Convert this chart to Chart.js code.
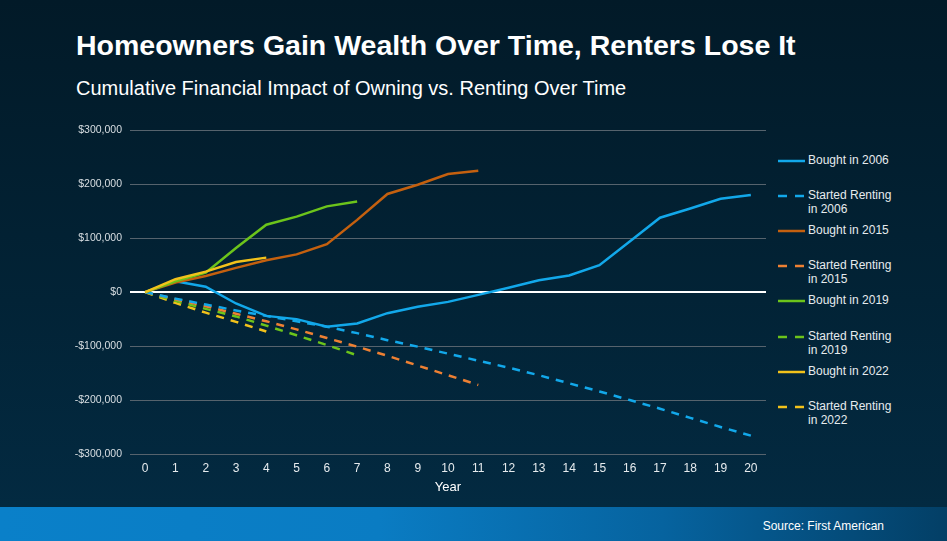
<!DOCTYPE html>
<html>
<head>
<meta charset="utf-8">
<script src="https://cdn.jsdelivr.net/npm/chart.js@4.4.1/dist/chart.umd.min.js"></script>
<style>
  html, body { margin:0; padding:0; }
  body {
    width:947px; height:541px; overflow:hidden; position:relative;
    background: linear-gradient(to bottom, #021a28 0px, #022336 300px, #032a41 507px);
    font-family: "Liberation Sans", Arial, sans-serif;
  }
  #title { position:absolute; left:76px; top:31px; color:#fff; font-weight:bold; font-size:28.5px; white-space:nowrap; line-height:1; }
  #subtitle { position:absolute; left:76px; top:78px; color:#fff; font-size:20px; white-space:nowrap; line-height:1; }
  #footer { position:absolute; left:0; top:507px; width:947px; height:34px;
    background: linear-gradient(to right, #0a80c9 0%, #0a7cc3 40%, #06639f 70%, #033f66 100%); }
  #source { position:absolute; right:63px; top:520px; color:#fff; font-size:12px; line-height:1; white-space:nowrap; }
  #wrap { position:absolute; left:0; top:116px; width:770px; height:379px; }
  #legend { position:absolute; left:778px; top:153px; }
  .item { position:absolute; left:0; width:170px; height:34px; }
  .item svg { position:absolute; left:0; top:1px; }
  .item span { position:absolute; left:30px; top:0; color:#e6ebee; font-size:12px; line-height:14px; white-space:nowrap; }
</style>
</head>
<body>
<div id="title">Homeowners Gain Wealth Over Time, Renters Lose It</div>
<div id="subtitle">Cumulative Financial Impact of Owning vs. Renting Over Time</div>
<div id="wrap"><canvas id="c"></canvas></div>
<div id="legend"></div>
<div id="footer"></div>
<div id="source">Source: First American</div>
<script>
const years = ['0','1','2','3','4','5','6','7','8','9','10','11','12','13','14','15','16','17','18','19','20'];
const yTicks = [-300000,-200000,-100000,0,100000,200000,300000];

const bought2006 = [0,20000,10000,-21000,-44000,-50000,-64000,-58000,-39000,-27000,-18000,-5000,8000,22000,31000,50000,94000,138000,155000,173000,180000];
const renting2006 = [0,-12000,-23000,-34000,-44000,-54000,-64000,-76000,-89000,-101000,-114000,-127000,-140000,-154000,-169000,-184000,-200000,-216000,-233000,-250000,-266000];
const bought2015 = [0,18000,30000,45000,59000,70000,89000,134000,182000,199000,219000,225000];
const renting2015 = [0,-13000,-26000,-40000,-54000,-69000,-85000,-101000,-118000,-136000,-154000,-172000];
const bought2019 = [0,20000,36000,82000,125000,140000,159000,168000];
const renting2019 = [0,-16000,-31000,-45000,-62000,-80000,-98000,-117000];
const bought2022 = [0,24000,38000,56000,64000];
const renting2022 = [0,-20000,-38000,-55000,-73000];

const seriesNames = ['Bought in 2006','Started Renting in 2006','Bought in 2015','Started Renting in 2015','Bought in 2019','Started Renting in 2019','Bought in 2022','Started Renting in 2022'];

const BLUE = '#12a8ea', ORANGE = '#c4600f', ORANGE_D = '#ee8033', GREEN = '#6cc41b', YELLOW = '#f2c21b';
const DASH = [8,7];

function ds(label, data, color, dashed, order){
  return {label, data, borderColor:color, backgroundColor:color, borderWidth:2.5,
    borderDash: dashed ? DASH : [], pointRadius:0, pointHoverRadius:0, tension:0, fill:false, order};
}

const datasets = [
  ds(seriesNames[0], bought2006, BLUE, false, 3),
  ds(seriesNames[1], renting2006, BLUE, true, 4),
  ds(seriesNames[2], bought2015, ORANGE, false, 2),
  ds(seriesNames[3], renting2015, ORANGE_D, true, 5),
  ds(seriesNames[4], bought2019, GREEN, false, 1),
  ds(seriesNames[5], renting2019, GREEN, true, 6),
  ds(seriesNames[6], bought2022, YELLOW, false, 0),
  ds(seriesNames[7], renting2022, YELLOW, true, 7),
];

function money(v){
  const s = Math.abs(v).toLocaleString('en-US');
  return (v < 0 ? '-$' : '$') + s;
}

const chart = new Chart(document.getElementById('c'), {
  type:'line',
  data:{ labels: years, datasets },
  options:{
    responsive:true, maintainAspectRatio:false, animation:false,
    layout:{ padding:{ top:2, right:4, left:0, bottom:0 } },
    plugins:{ legend:{ display:false }, tooltip:{ enabled:false } },
    scales:{
      x:{
        offset:true,
        grid:{ display:false, drawTicks:false },
        border:{ display:false },
        ticks:{ color:'#e6ebee', font:{ family:'"Liberation Sans", Arial, sans-serif', size:12 }, padding:7, maxRotation:0, autoSkip:false },
        title:{ display:true, text:'Year', color:'#ffffff', font:{ family:'"Liberation Sans", Arial, sans-serif', size:13 }, padding:{ top:4, bottom:0 } },
        afterFit(scale){ scale.height = 41; }
      },
      y:{
        min:-300000, max:300000,
        afterBuildTicks(scale){ scale.ticks = yTicks.map(v => ({ value:v })); },
        grid:{ drawTicks:false, lineWidth:(c)=> c.tick && c.tick.value === 0 ? 2 : 1,
               color:(c)=> c.tick && c.tick.value === 0 ? '#ffffff' : '#56636d' },
        border:{ display:false },
        ticks:{ color:'#d9dfe3', font:{ family:'"Liberation Sans", Arial, sans-serif', size:10.5 }, padding:8, callback:(v)=>money(v) },
        afterFit(scale){ scale.width = 130; }
      }
    }
  }
});

// HTML legend built from chart datasets
const leg = document.getElementById('legend');
chart.data.datasets.forEach((d, i) => {
  const item = document.createElement('div');
  item.className = 'item';
  item.style.top = (i * 35.1) + 'px';
  const dash = d.borderDash && d.borderDash.length ? 'stroke-dasharray="9 8"' : '';
  item.innerHTML = '<svg width="28" height="14"><line x1="0" y1="7" x2="27" y2="7" stroke="' + d.borderColor + '" stroke-width="2.5" ' + dash + '/></svg>';
  const span = document.createElement('span');
  span.innerHTML = d.label.replace('Renting in', 'Renting<br>in');
  item.appendChild(span);
  leg.appendChild(item);
});
</script>
</body>
</html>
